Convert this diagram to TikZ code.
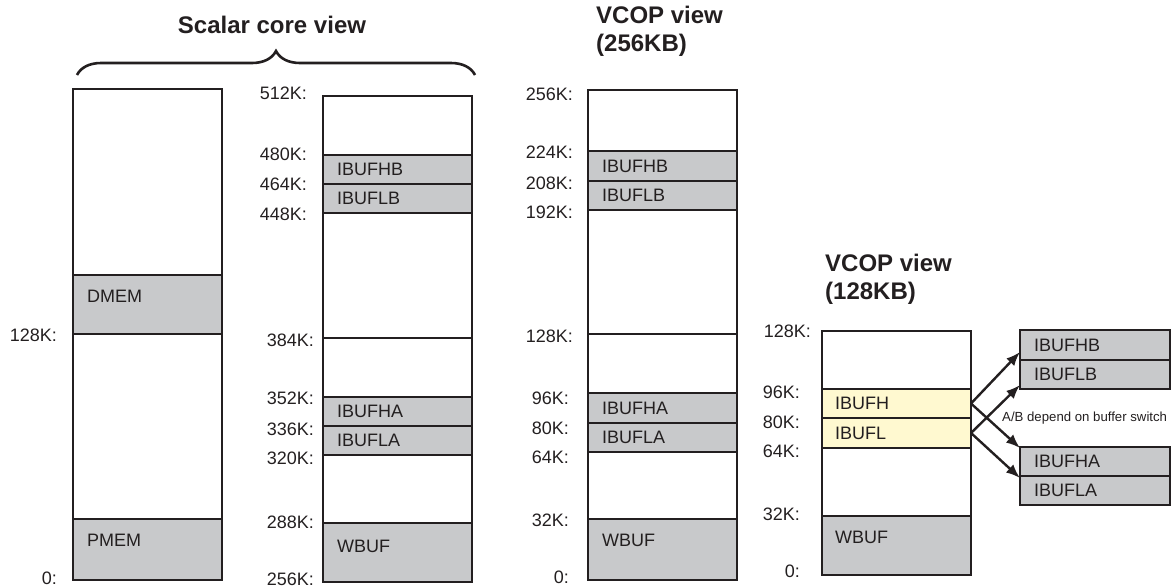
\documentclass[tikz,border=0pt]{standalone}
\usepackage{fontspec}
\setmainfont{Liberation Sans}
\usetikzlibrary{arrows.meta,decorations.pathreplacing}
\definecolor{ink}{RGB}{35,31,32}
\definecolor{bufgray}{RGB}{200,201,203}
\definecolor{bufyellow}{RGB}{255,249,208}

\begin{document}
\begin{tikzpicture}[
    x=1pt, y=-1pt,
    >={Latex[length=14pt,width=11pt]},
    every node/.style={text=ink, font=\fontsize{18}{21}\selectfont},
    region/.style={draw=ink, line width=2.2pt, fill=white, minimum width=149pt, inner sep=0pt, outer sep=0pt, anchor=north west},
    seg/.style={region, fill=bufgray},
    swapseg/.style={region, fill=bufyellow},
    tag/.style={anchor=west, inner sep=0pt},
    addr/.style={anchor=east, inner sep=0pt},
    heading/.style={font=\bfseries\fontsize{24}{28}\selectfont, align=left, inner sep=0pt},
    link/.style={->, draw=ink, line width=2.4pt}
]
  \useasboundingbox (0,0) rectangle (1172,587);

  % Scalar core view
  \node[heading, anchor=center] (scalarTitle) at (272,25) {Scalar core view};
  \draw[ink, line width=2.6pt, decorate, decoration={brace, amplitude=24pt}] (77,75) -- (475,75);

  % Scalar core, lower half
  \node[region, minimum height=491pt] (colA) at (73,89) {};
  \node[seg, minimum height=59pt] (dmem) at (73,275) {};
  \node[seg, minimum height=61pt] (pmem) at (73,519) {};
  \node[tag] (dmem-t) at ([xshift=14pt,yshift=-21pt]dmem.north west) {DMEM};
  \node[tag] (pmem-t) at ([xshift=14pt,yshift=-21pt]pmem.north west) {PMEM};
  \node[addr] (a128A) at (57,335) {128K:};
  \node[addr] (a0A) at (57,578) {0:};

  % Scalar core, upper half
  \node[region, minimum height=486pt] (colB) at (323,96) {};
  \draw[ink, line width=2.2pt] (colB.west |- 0,338) -- (colB.east |- 0,338);
  \node[seg, minimum height=29pt] (hbB) at (323,155) {};
  \node[seg, minimum height=29pt] (lbB) at (323,184) {};
  \node[seg, minimum height=29pt] (haB) at (323,397) {};
  \node[seg, minimum height=29pt] (laB) at (323,426) {};
  \node[seg, minimum height=59pt] (wbB) at (323,523) {};
  \node[tag] (hbB-t) at ([xshift=14pt]hbB.west) {IBUFHB};
  \node[tag] (lbB-t) at ([xshift=14pt]lbB.west) {IBUFLB};
  \node[tag] (haB-t) at ([xshift=14pt]haB.west) {IBUFHA};
  \node[tag] (laB-t) at ([xshift=14pt]laB.west) {IBUFLA};
  \node[tag] (wbB-t) at ([xshift=14pt,yshift=-23pt]wbB.north west) {WBUF};
  \node[addr] (a512B) at (307,93) {512K:};
  \node[addr] (a480B) at (307,154) {480K:};
  \node[addr] (a464B) at (307,184) {464K:};
  \node[addr] (a448B) at (307,214) {448K:};
  \node[addr] (a384B) at (314,340) {384K:};
  \node[addr] (a352B) at (314,398) {352K:};
  \node[addr] (a336B) at (314,429) {336K:};
  \node[addr] (a320B) at (314,458) {320K:};
  \node[addr] (a288B) at (314,522) {288K:};
  \node[addr] (a256B) at (314,579) {256K:};

  % VCOP view, 256KB
  \node[heading, anchor=west] (vcopTitleC) at (596,31) {VCOP view\\(256KB)};
  \node[region, minimum height=490pt] (colC) at (588,90) {};
  \draw[ink, line width=2.2pt] (colC.west |- 0,334) -- (colC.east |- 0,334);
  \node[seg, minimum height=30pt] (hbC) at (588,151) {};
  \node[seg, minimum height=29pt] (lbC) at (588,181) {};
  \node[seg, minimum height=30pt] (haC) at (588,393) {};
  \node[seg, minimum height=29pt] (laC) at (588,423) {};
  \node[seg, minimum height=61pt] (wbC) at (588,519) {};
  \node[tag] (hbC-t) at ([xshift=14pt]hbC.west) {IBUFHB};
  \node[tag] (lbC-t) at ([xshift=14pt]lbC.west) {IBUFLB};
  \node[tag] (haC-t) at ([xshift=14pt]haC.west) {IBUFHA};
  \node[tag] (laC-t) at ([xshift=14pt]laC.west) {IBUFLA};
  \node[tag] (wbC-t) at ([xshift=14pt,yshift=-21pt]wbC.north west) {WBUF};
  \node[addr] (a256C) at (573,94) {256K:};
  \node[addr] (a224C) at (573,152) {224K:};
  \node[addr] (a208C) at (573,183) {208K:};
  \node[addr] (a192C) at (573,212) {192K:};
  \node[addr] (a128C) at (573,336) {128K:};
  \node[addr] (a96C) at (569,398) {96K:};
  \node[addr] (a80C) at (569,428) {80K:};
  \node[addr] (a64C) at (569,457) {64K:};
  \node[addr] (a32C) at (569,520) {32K:};
  \node[addr] (a0C) at (569,577) {0:};

  % VCOP view, 128KB
  \node[heading, anchor=west] (vcopTitleD) at (825,279) {VCOP view\\(128KB)};
  \node[region, minimum height=244pt] (colD) at (822,331) {};
  \node[swapseg, minimum height=29pt] (ibufH) at (822,389) {};
  \node[swapseg, minimum height=30pt] (ibufL) at (822,418) {};
  \node[seg, minimum height=59pt] (wbD) at (822,516) {};
  \node[tag] (ibufH-t) at ([xshift=13pt]ibufH.west) {IBUFH};
  \node[tag] (ibufL-t) at ([xshift=13pt]ibufL.west) {IBUFL};
  \node[tag] (wbD-t) at ([xshift=13pt,yshift=-21pt]wbD.north west) {WBUF};
  \node[addr] (a128D) at (811,331) {128K:};
  \node[addr] (a96D) at (800,392) {96K:};
  \node[addr] (a80D) at (800,422) {80K:};
  \node[addr] (a64D) at (800,451) {64K:};
  \node[addr] (a32D) at (800,514) {32K:};
  \node[addr] (a0D) at (800,571) {0:};

  % Buffer switch targets
  \node[seg, minimum width=150pt, minimum height=30pt] (hbR) at (1020,330) {};
  \node[seg, minimum width=150pt, minimum height=29pt] (lbR) at (1020,360) {};
  \node[seg, minimum width=150pt, minimum height=29pt] (haR) at (1020,447) {};
  \node[seg, minimum width=150pt, minimum height=29pt] (laR) at (1020,476) {};
  \node[tag] (hbR-t) at ([xshift=14pt]hbR.west) {IBUFHB};
  \node[tag] (lbR-t) at ([xshift=14pt]lbR.west) {IBUFLB};
  \node[tag] (haR-t) at ([xshift=14pt]haR.west) {IBUFHA};
  \node[tag] (laR-t) at ([xshift=14pt]laR.west) {IBUFLA};
  \node[tag, font=\fontsize{13.2}{16}\selectfont] (switchNote) at (1002,418) {A/B depend on buffer switch};

  \draw[link] (ibufH.east) -- ([yshift=8pt]hbR.south west);
  \draw[link] (ibufH.east) -- ([yshift=-1pt]haR.north west);
  \draw[link] (ibufL.east) -- ([yshift=4pt]lbR.south west);
  \draw[link] (ibufL.east) -- ([yshift=-2pt]laR.north west);
\end{tikzpicture}
\end{document}
